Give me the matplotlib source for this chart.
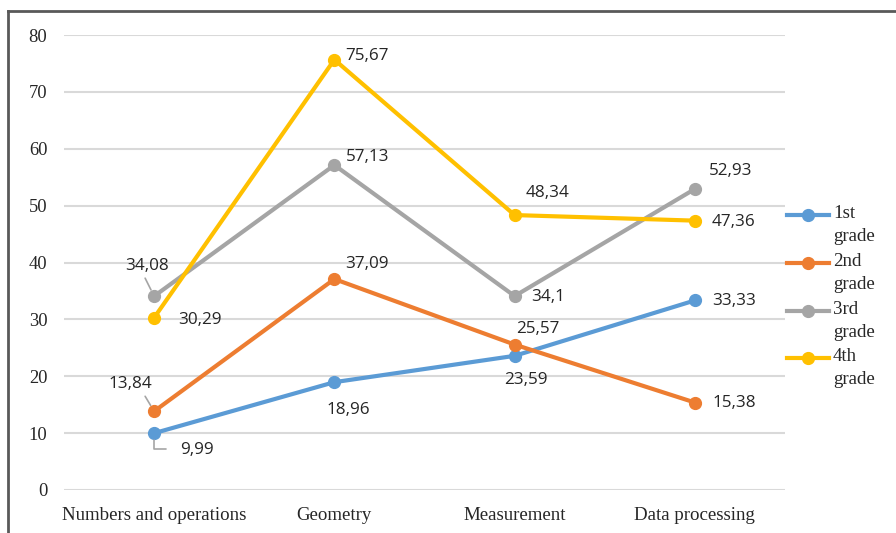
#! /usr/bin/env python

# Line chart of mean scores per learning area, one line per grade

import numpy as np
import matplotlib.pyplot as plt
from matplotlib.lines import Line2D

# data
areas = ['Numbers and operations', 'Geometry', 'Measurement', 'Data processing']
grades = ['1st\ngrade', '2nd\ngrade', '3rd\ngrade', '4th\ngrade']
grade1 = [9.99, 18.96, 23.59, 33.33]
grade2 = [13.84, 37.09, 25.57, 15.38]
grade3 = [34.08, 57.13, 34.1, 52.93]
grade4 = [30.29, 75.67, 48.34, 47.36]
labels1 = ['9,99', '18,96', '23,59', '33,33']
labels2 = ['13,84', '37,09', '25,57', '15,38']
labels3 = ['34,08', '57,13', '34,1', '52,93']
labels4 = ['30,29', '75,67', '48,34', '47,36']

colors = ['#5B9BD5', '#ED7D31', '#A5A5A5', '#FFC000']

# label offsets in pixels (dx, dy) for each point
offs1 = [(43, -17), (14, -28), (11, -24), (39, -1)]
offs2 = [(-24, 27), (33, 15), (23, 16), (39, 0)]
offs3 = [(-7, 30), (33, 8), (34, -1), (36, 18)]
offs4 = [(46, -2), (33, 4), (33, 22), (39, -1)]

W, H = 896, 533
fig = plt.figure(figsize=(W / 100, H / 100), dpi=100)
ax = fig.add_axes([64 / W, 1 - 490 / H, (785 - 64) / W, (490 - 35) / H])

x = np.arange(len(areas))
series = [grade1, grade2, grade3, grade4]
labs = [labels1, labels2, labels3, labels4]
offs = [offs1, offs2, offs3, offs4]

for s, c in zip(series, colors):
    ax.plot(x, s, color=c, lw=3, marker='o', markersize=8.5, solid_capstyle='round', zorder=3)

for s, lb, of in zip(series, labs, offs):
    for i in range(len(s)):
        ax.annotate(lb[i], (x[i], s[i]), xytext=of[i], textcoords='offset pixels',
                    ha='center', va='center', fontsize=12.3, color='#262626',
                    family='Open Sans', zorder=4)

# leader lines for the crowded first-category labels
ax.annotate('', (x[0], grade2[0]), xytext=(-9, 15), textcoords='offset pixels',
            arrowprops=dict(arrowstyle='-', color='#A5A5A5', lw=1.2, shrinkA=0, shrinkB=5))
ax.annotate('', (x[0], grade3[0]), xytext=(-9, 18), textcoords='offset pixels',
            arrowprops=dict(arrowstyle='-', color='#A5A5A5', lw=1.2, shrinkA=0, shrinkB=5))
ax.annotate('', (x[0], grade1[0]), xytext=(12, -16), textcoords='offset pixels',
            arrowprops=dict(arrowstyle='-', color='#A5A5A5', lw=1.2, shrinkA=0, shrinkB=5,
                            connectionstyle='angle,angleA=0,angleB=90,rad=0'))

ax.set_xlim(-0.5, len(areas) - 0.5)
ax.set_ylim(0, 80)
ax.set_yticks(range(0, 81, 10))
ax.set_xticks(x)
ax.set_xticklabels(areas, family='Liberation Serif', fontsize=13.6)
for t in ax.get_yticklabels():
    t.set_family('Liberation Serif')
    t.set_fontsize(13.3)
ax.tick_params(length=0, colors='#262626')
ax.tick_params(axis='y', pad=12)
ax.tick_params(axis='x', pad=12)
ax.grid(axis='y', color='#D9D9D9', lw=1.5)
ax.set_axisbelow(True)
for sp in ax.spines.values():
    sp.set_visible(False)

# legend, one handle per grade aligned with the first text line
ly = [215, 263, 311, 358]
for g, c, y in zip(grades, colors, ly):
    yy = 1 - y / H
    fig.add_artist(Line2D([787 / W, 829 / W], [yy, yy], color=c, lw=3))
    fig.add_artist(Line2D([808 / W], [yy], color=c, marker='o', markersize=8.5))
    fig.text(833 / W, yy + 10 / H, g, ha='left', va='top', family='Liberation Serif',
             fontsize=13.6, color='#262626', linespacing=1.45)

# outer frame of the chart (top and left edges visible)
fig.add_artist(Line2D([8 / W, 1], [1 - 11 / H, 1 - 11 / H], color='#595959', lw=2))
fig.add_artist(Line2D([8 / W, 8 / W], [0, 1 - 11 / H], color='#595959', lw=2))

fig.savefig('out.png', dpi=100)
